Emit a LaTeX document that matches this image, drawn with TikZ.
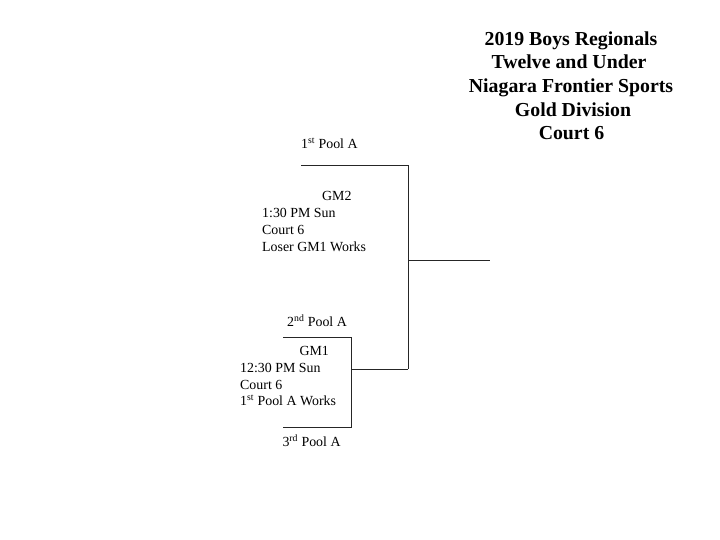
\documentclass[tikz,border=0pt]{standalone}
\usepackage{fontspec}
\setmainfont{Liberation Serif}
\begin{document}
\begin{tikzpicture}[x=1pt,y=-1pt,
  lbl/.style={anchor=base west,inner sep=0pt,font=\fontsize{13.9}{16}\selectfont},
  ttl/.style={anchor=base,inner sep=0pt,font=\fontsize{19.8}{23}\selectfont\bfseries},
  bracket/.style={line width=1pt,draw=black!85}]
\useasboundingbox (0,0) rectangle (720,540);
% title
\node[ttl] (t1) at (571,45.7) {2019 Boys Regionals};
\node[ttl] (t2) at (569,69) {Twelve and Under};
\node[ttl] (t3) at (571,92.3) {Niagara Frontier Sports};
\node[ttl] (t4) at (573,116.3) {Gold Division};
\node[ttl] (t5) at (571.5,140) {Court 6};
% GM2 texts
\node[lbl] (p1) at (301,148.3) {1\textsuperscript{st} Pool A};
\node[lbl] (g2a) at (322,201) {GM2};
\node[lbl] (g2b) at (262,217.7) {1:30 PM Sun};
\node[lbl] (g2c) at (262,234.5) {Court 6};
\node[lbl] (g2d) at (262,251.3) {Loser GM1 Works};
% GM1 texts
\node[lbl] (p2) at (287,326.7) {2\textsuperscript{nd} Pool A};
\node[lbl] (g1a) at (299.3,355.3) {GM1};
\node[lbl] (g1b) at (240,372) {12:30 PM Sun};
\node[lbl] (g1c) at (240,389) {Court 6};
\node[lbl] (g1d) at (240,405.5) {1\textsuperscript{st} Pool A Works};
\node[lbl] (p3) at (282.3,446.7) {3\textsuperscript{rd} Pool A};
% bracket coordinates
\coordinate (a1) at (301,166);
\coordinate (a2) at (408,166);
\coordinate (a3) at (408,369);
\coordinate (m1) at (408,260.5);
\coordinate (m2) at (490,260.5);
\coordinate (b1) at (283,337);
\coordinate (b2) at (351,337);
\coordinate (b3) at (351,427);
\coordinate (b4) at (283,427);
\coordinate (c1) at (351,369);
% lines
\draw[bracket] (a1) -- (a2) -- (a3);
\draw[bracket] (m1) -- (m2);
\draw[bracket] (b1) -- (b2) -- (b3) -- (b4);
\draw[bracket] (c1) -- (a3);
\end{tikzpicture}
\end{document}
